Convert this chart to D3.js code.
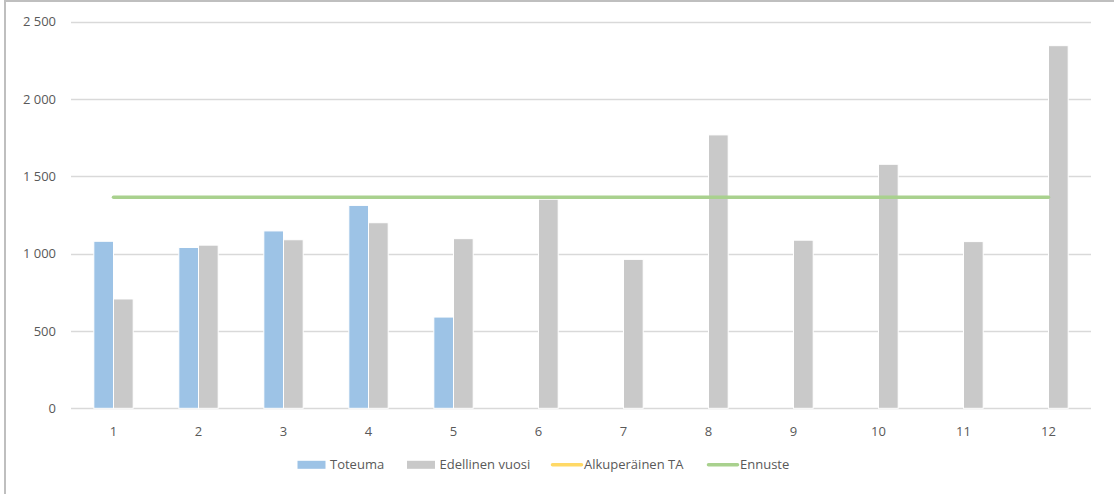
<!DOCTYPE html>
<html>
<head>
<meta charset="utf-8">
<script src="https://cdn.jsdelivr.net/npm/d3@7"></script>
<style>
  html, body { margin: 0; padding: 0; background: #fff; }
  svg { display: block; }
  text { font-family: "Open Sans", "Noto Sans", sans-serif; fill: #595959; }
</style>
</head>
<body>
<svg id="chart" width="1114" height="494"></svg>
<script>
const months = ["1","2","3","4","5","6","7","8","9","10","11","12"];
const toteuma = [1080, 1040, 1147, 1312, 590, null, null, null, null, null, null, null];
const edellinenVuosi = [707, 1055, 1090, 1200, 1097, 1352, 963, 1768, 1087, 1578, 1078, 2345];
const alkuperainenTA = [null, null, null, null, null, null, null, null, null, null, null, null];
const ennuste = [1365, 1365, 1365, 1365, 1365, 1365, 1365, 1365, 1365, 1365, 1365, 1365];
const yTicks = [0, 500, 1000, 1500, 2000, 2500];
const seriesNames = ["Toteuma", "Edellinen vuosi", "Alkuperäinen TA", "Ennuste"];

const colors = {
  "Toteuma": "#9DC3E6",
  "Edellinen vuosi": "#C9C9C9",
  "Alkuperäinen TA": "#FFD966",
  "Ennuste": "#A9D18E"
};

const svg = d3.select("#chart");
const plot = { left: 71, right: 1091, top: 21.7, bottom: 408.3 };

// outer chart border
svg.append("rect")
  .attr("x", 5).attr("y", 1)
  .attr("width", 1300).attr("height", 700)
  .attr("fill", "none").attr("stroke", "#BFBFBF").attr("stroke-width", 2);

const y = d3.scaleLinear().domain([0, 2500]).range([plot.bottom, plot.top]);
const x0 = d3.scaleBand().domain(months).range([plot.left, plot.right]).padding(0);
const barSeries = ["Toteuma", "Edellinen vuosi"];
const x1 = d3.scaleBand().domain(barSeries).range([0, x0.bandwidth()]).paddingInner(0).paddingOuter(1.16);

// gridlines
svg.append("g").selectAll("line").data(yTicks).join("line")
  .attr("x1", plot.left).attr("x2", plot.right)
  .attr("y1", d => Math.round(y(d)) + 0.5).attr("y2", d => Math.round(y(d)) + 0.5)
  .attr("stroke", "#D9D9D9").attr("stroke-width", 1.3);

// y axis labels
const fmt = d => d3.format(",")(d).replace(/,/g, " ");
svg.append("g").selectAll("text").data(yTicks).join("text")
  .attr("x", 56).attr("y", d => y(d))
  .attr("dy", "0.35em")
  .attr("text-anchor", "end")
  .attr("font-size", 13)
  .text(fmt);

// bars
const barData = [];
months.forEach((m, i) => {
  barData.push({ m, s: "Toteuma", v: toteuma[i] });
  barData.push({ m, s: "Edellinen vuosi", v: edellinenVuosi[i] });
});
svg.append("g").selectAll("rect").data(barData.filter(d => d.v != null)).join("rect")
  .attr("x", d => x0(d.m) + x1(d.s))
  .attr("width", x1.bandwidth())
  .attr("y", d => y(d.v))
  .attr("height", d => y(0) - y(d.v))
  .attr("fill", d => colors[d.s])
  .attr("stroke", "#fff").attr("stroke-width", 1);

// lines
const line = d3.line()
  .defined(d => d.v != null)
  .x(d => x0(d.m) + x0.bandwidth() / 2)
  .y(d => y(d.v));

svg.append("path")
  .datum(months.map((m, i) => ({ m, v: alkuperainenTA[i] })))
  .attr("d", line)
  .attr("fill", "none").attr("stroke", colors["Alkuperäinen TA"]).attr("stroke-width", 3.5)
  .attr("stroke-linecap", "round");

svg.append("path")
  .datum(months.map((m, i) => ({ m, v: ennuste[i] })))
  .attr("d", line)
  .attr("fill", "none").attr("stroke", colors["Ennuste"]).attr("stroke-width", 3.5)
  .attr("stroke-linecap", "round");

// x axis labels
svg.append("g").selectAll("text").data(months).join("text")
  .attr("x", d => x0(d) + x0.bandwidth() / 2)
  .attr("y", 431)
  .attr("dy", "0.35em")
  .attr("text-anchor", "middle")
  .attr("font-size", 13)
  .text(d => d);

// legend
const legendItems = [
  { name: "Toteuma", type: "rect", x: 297.5 },
  { name: "Edellinen vuosi", type: "rect", x: 407 },
  { name: "Alkuperäinen TA", type: "line", x: 551 },
  { name: "Ennuste", type: "line", x: 707 }
];
const ly = 464.8;
const lg = svg.append("g");
legendItems.forEach(it => {
  if (it.type === "rect") {
    lg.append("rect").attr("x", it.x).attr("y", ly - 4).attr("width", 28).attr("height", 8)
      .attr("fill", colors[it.name]);
  } else {
    lg.append("line").attr("x1", it.x + 1.5).attr("x2", it.x + 30.5)
      .attr("y1", ly).attr("y2", ly)
      .attr("stroke", colors[it.name]).attr("stroke-width", 3.5).attr("stroke-linecap", "round");
  }
  lg.append("text").attr("x", it.x + (it.type === "rect" ? 32.5 : 33)).attr("y", ly)
    .attr("dy", "0.35em").attr("font-size", 13).text(it.name);
});
</script>
</body>
</html>
